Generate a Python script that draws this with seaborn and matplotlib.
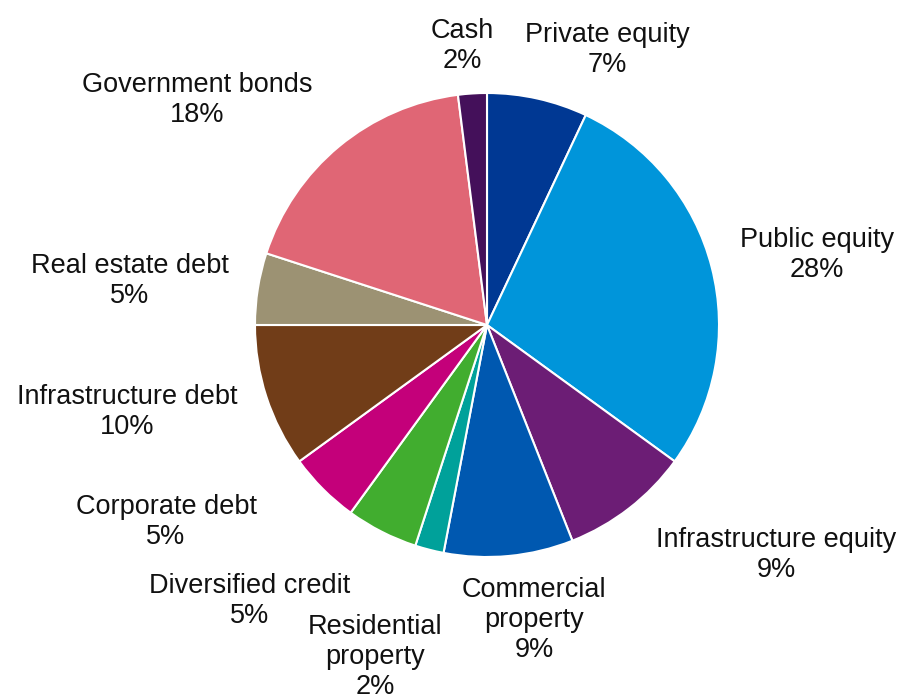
import matplotlib
matplotlib.use("Agg")
import matplotlib.pyplot as plt
import seaborn as sns

# Data: asset allocation shares, clockwise from 12 o'clock
categories = ["Private equity", "Public equity", "Infrastructure equity",
              "Commercial\nproperty", "Residential\nproperty", "Diversified credit",
              "Corporate debt", "Infrastructure debt", "Real estate debt",
              "Government bonds", "Cash"]
shares = [7, 28, 9, 9, 2, 5, 5, 10, 5, 18, 2]
colors = ["#003893", "#0095DA", "#6C1D75", "#0058B0", "#00A19A", "#41AD2F",
          "#C4007A", "#713D18", "#9C9273", "#E06675", "#44105A"]

# label centres in pixels (x, y from top) of the 901x697 canvas
label_px = [(607, 50), (817, 255), (776, 555), (534, 620), (375, 657),
            (250, 601), (166, 522), (127, 412), (130, 281), (197, 100), (462, 46)]

sns.set_theme(style="white")
plt.rcParams['font.family'] = ['Liberation Sans', 'DejaVu Sans']

fig = plt.figure(figsize=(9.01, 6.97), dpi=100)
ax = fig.add_axes([0, 0, 1, 1])

cx, cy, r = 487, 325, 232
ax.pie(shares, colors=colors, startangle=90, counterclock=False, radius=1,
       wedgeprops=dict(edgecolor="white", linewidth=1.5))

ax.set_xlim(-cx / r, (901 - cx) / r)
ax.set_ylim(-(697 - cy) / r, cy / r)
ax.set_aspect("equal")
ax.axis("off")

for name, val, (px, py) in zip(categories, shares, label_px):
    ax.text((px - cx) / r, (cy - py) / r, f"{name}\n{val}%", ha="center", va="center",
            fontsize=19.5, color="#111111", linespacing=1.2)

fig.savefig("out.png", dpi=100)
